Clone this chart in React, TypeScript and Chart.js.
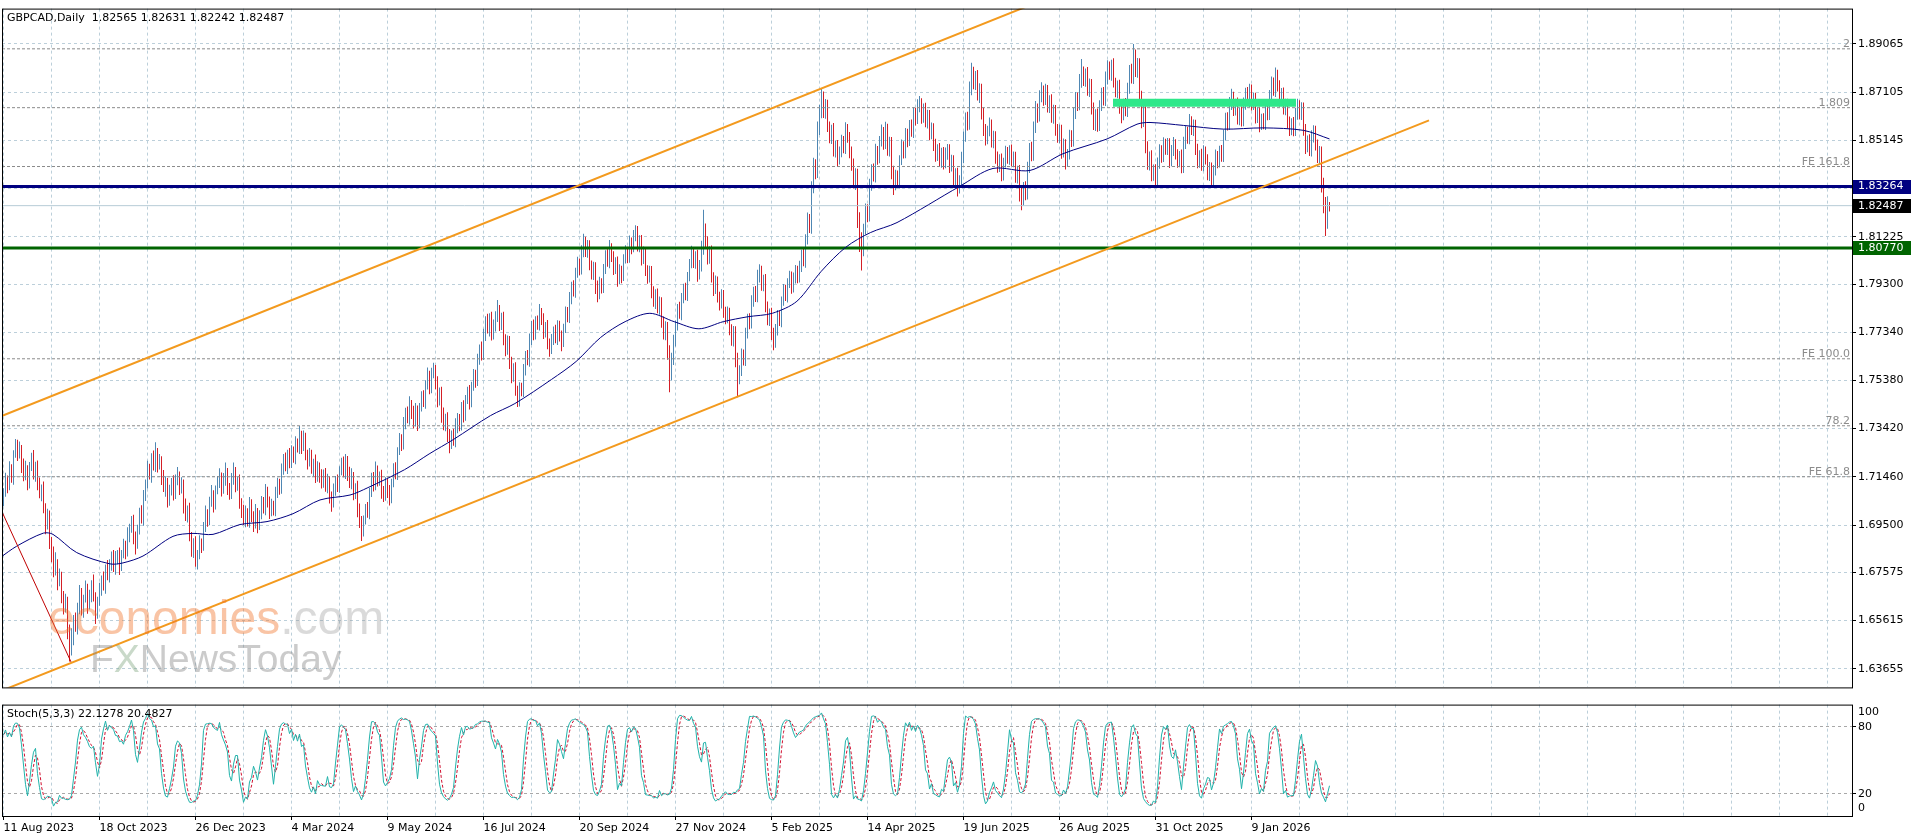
import { useEffect, useRef } from 'react';
import { Chart, registerables } from 'chart.js';

Chart.register(...registerables);

const FONT = '"DejaVu Sans", Verdana, sans-serif';
const WM_FONT = '"Liberation Sans", Arial, sans-serif';

const titleText = 'GBPCAD,Daily  1.82565 1.82631 1.82242 1.82487';
const stochTitle = 'Stoch(5,3,3) 22.1278 20.4827';

const dateLabels = ['11 Aug 2023', '18 Oct 2023', '26 Dec 2023', '4 Mar 2024', '9 May 2024', '16 Jul 2024', '20 Sep 2024', '27 Nov 2024', '5 Feb 2025', '14 Apr 2025', '19 Jun 2025', '26 Aug 2025', '31 Oct 2025', '9 Jan 2026'];
const barsPerLabel = 48;
const barsPerGrid = 24;

const priceTicks = [1.89065, 1.87105, 1.85145, 1.83185, 1.81225, 1.793, 1.7734, 1.7538, 1.7342, 1.7146, 1.695, 1.67575, 1.65615, 1.63655];
const priceTickLabels = ['1.89065', '1.87105', '1.85145', '', '1.81225', '1.79300', '1.77340', '1.75380', '1.73420', '1.71460', '1.69500', '1.67575', '1.65615', '1.63655'];

const stochTickPos = [6.7, 20, 80, 93.3];
const stochTickLabels = ['0', '20', '80', '100'];
const stochLevels = [20, 80];
const stochK = 5, stochSlowing = 3, stochD = 3;

// daily bars: open of each bar = previous close
const firstOpen = 1.705;
const closes = [
  1.7080, 1.7135, 1.7110, 1.7175, 1.7150, 1.7240, 1.7275, 1.7235, 1.7260, 1.7195, 1.7150, 1.7175, 1.7120, 1.7185, 1.7215, 1.7160, 1.7190, 1.7110, 1.7075, 1.7100, 1.7020, 1.6950, 1.6985, 1.6880,
  1.6830, 1.6760, 1.6795, 1.6720, 1.6745, 1.6660, 1.6610, 1.6640, 1.6520, 1.6440, 1.6490, 1.6565, 1.6530, 1.6620, 1.6670, 1.6600, 1.6650, 1.6690, 1.6625, 1.6660, 1.6710, 1.6655, 1.6590, 1.6640,
  1.6690, 1.6730, 1.6705, 1.6770, 1.6740, 1.6795, 1.6820, 1.6775, 1.6810, 1.6835, 1.6785, 1.6830, 1.6865, 1.6840, 1.6905, 1.6940, 1.6960, 1.6905, 1.6870, 1.6935, 1.6995, 1.6975, 1.7070, 1.7120,
  1.7180, 1.7150, 1.7215, 1.7190, 1.7245, 1.7195, 1.7215, 1.7140, 1.7100, 1.7125, 1.7050, 1.7085, 1.7120, 1.7075, 1.7130, 1.7150, 1.7100, 1.7120, 1.7030, 1.6985, 1.7010, 1.6900, 1.6850, 1.6880,
  1.6800, 1.6830, 1.6880, 1.6860, 1.6940, 1.6995, 1.6970, 1.7040, 1.7075, 1.7035, 1.7090, 1.7120, 1.7145, 1.7095, 1.7135, 1.7160, 1.7105, 1.7075, 1.7130, 1.7165, 1.7110, 1.7130, 1.7040, 1.7010,
  1.6975, 1.7000, 1.6960, 1.7030, 1.6990, 1.6955, 1.7000, 1.6945, 1.6995, 1.7040, 1.7015, 1.7085, 1.7050, 1.7010, 1.7030, 1.7005, 1.7075, 1.7120, 1.7095, 1.7175, 1.7210, 1.7185, 1.7235, 1.7200,
  1.7250, 1.7225, 1.7280, 1.7260, 1.7315, 1.7270, 1.7300, 1.7240, 1.7210, 1.7235, 1.7175, 1.7205, 1.7145, 1.7185, 1.7150, 1.7120, 1.7160, 1.7110, 1.7130, 1.7065, 1.7040, 1.7085, 1.7130, 1.7105,
  1.7170, 1.7195, 1.7165, 1.7215, 1.7160, 1.7120, 1.7145, 1.7085, 1.7105, 1.7020, 1.6965, 1.6925, 1.6970, 1.7020, 1.6995, 1.7080, 1.7135, 1.7110, 1.7170, 1.7135, 1.7150, 1.7090, 1.7065, 1.7115,
  1.7085, 1.7060, 1.7120, 1.7180, 1.7155, 1.7250, 1.7300, 1.7275, 1.7360, 1.7405, 1.7380, 1.7440, 1.7410, 1.7370, 1.7415, 1.7365, 1.7430, 1.7470, 1.7445, 1.7520, 1.7555, 1.7510, 1.7565, 1.7580,
  1.7530, 1.7460, 1.7490, 1.7400, 1.7360, 1.7385, 1.7310, 1.7280, 1.7315, 1.7290, 1.7350, 1.7385, 1.7350, 1.7425, 1.7395, 1.7460, 1.7490, 1.7445, 1.7515, 1.7560, 1.7530, 1.7620, 1.7665, 1.7640,
  1.7720, 1.7775, 1.7745, 1.7790, 1.7725, 1.7755, 1.7800, 1.7820, 1.7770, 1.7795, 1.7710, 1.7670, 1.7700, 1.7610, 1.7560, 1.7590, 1.7500, 1.7450, 1.7510, 1.7490, 1.7580, 1.7640, 1.7615, 1.7700,
  1.7755, 1.7725, 1.7780, 1.7760, 1.7815, 1.7790, 1.7735, 1.7760, 1.7690, 1.7665, 1.7700, 1.7735, 1.7710, 1.7765, 1.7720, 1.7690, 1.7750, 1.7815, 1.7790, 1.7870, 1.7920, 1.7895, 1.7975, 1.8010,
  1.7985, 1.8060, 1.8100, 1.8065, 1.8090, 1.8010, 1.7975, 1.8000, 1.7920, 1.7890, 1.7935, 1.7910, 1.7990, 1.8040, 1.8015, 1.8075, 1.8045, 1.7995, 1.8020, 1.7950, 1.7985, 1.7960, 1.8030, 1.8060,
  1.8035, 1.8100, 1.8075, 1.8125, 1.8145, 1.8090, 1.8110, 1.8030, 1.8055, 1.7990, 1.7960, 1.7985, 1.7900, 1.7860, 1.7885, 1.7830, 1.7860, 1.7780, 1.7735, 1.7760, 1.7660, 1.7560, 1.7620, 1.7700,
  1.7760, 1.7830, 1.7805, 1.7870, 1.7910, 1.7885, 1.7960, 1.8010, 1.8055, 1.8020, 1.8045, 1.7970, 1.8000, 1.8070, 1.8145, 1.8100, 1.8040, 1.8065, 1.7960, 1.7910, 1.7940, 1.7880, 1.7850, 1.7885,
  1.7820, 1.7790, 1.7815, 1.7750, 1.7710, 1.7740, 1.7630, 1.7550, 1.7575, 1.7640, 1.7615, 1.7730, 1.7790, 1.7765, 1.7860, 1.7900, 1.7875, 1.7960, 1.7985, 1.7930, 1.7950, 1.7840, 1.7790, 1.7815,
  1.7730, 1.7695, 1.7740, 1.7800, 1.7775, 1.7860, 1.7905, 1.7880, 1.7935, 1.7960, 1.7915, 1.7950, 1.7985, 1.7955, 1.8000, 1.8045, 1.8020, 1.8110, 1.8190, 1.8160, 1.8320, 1.8410, 1.8380, 1.8560,
  1.8625, 1.8685, 1.8630, 1.8660, 1.8570, 1.8530, 1.8560, 1.8470, 1.8495, 1.8440, 1.8465, 1.8510, 1.8480, 1.8560, 1.8530, 1.8470, 1.8425, 1.8350, 1.8380, 1.8200, 1.8110, 1.8065, 1.8150, 1.8230,
  1.8200, 1.8330, 1.8395, 1.8365, 1.8470, 1.8440, 1.8505, 1.8545, 1.8500, 1.8560, 1.8480, 1.8510, 1.8390, 1.8330, 1.8370, 1.8340, 1.8430, 1.8490, 1.8460, 1.8540, 1.8510, 1.8570, 1.8545, 1.8625,
  1.8600, 1.8650, 1.8665, 1.8610, 1.8640, 1.8590, 1.8620, 1.8540, 1.8565, 1.8500, 1.8455, 1.8480, 1.8430, 1.8465, 1.8420, 1.8460, 1.8480, 1.8410, 1.8435, 1.8360, 1.8385, 1.8320, 1.8350, 1.8440,
  1.8525, 1.8600, 1.8575, 1.8720, 1.8790, 1.8750, 1.8775, 1.8700, 1.8725, 1.8630, 1.8560, 1.8520, 1.8550, 1.8580, 1.8510, 1.8535, 1.8450, 1.8410, 1.8440, 1.8370, 1.8420, 1.8465, 1.8440, 1.8475,
  1.8430, 1.8450, 1.8370, 1.8395, 1.8300, 1.8270, 1.8320, 1.8290, 1.8400, 1.8480, 1.8450, 1.8560, 1.8640, 1.8610, 1.8690, 1.8715, 1.8680, 1.8720, 1.8655, 1.8680, 1.8610, 1.8640, 1.8560, 1.8530,
  1.8560, 1.8470, 1.8500, 1.8430, 1.8455, 1.8530, 1.8505, 1.8620, 1.8680, 1.8655, 1.8750, 1.8790, 1.8760, 1.8785, 1.8720, 1.8745, 1.8650, 1.8590, 1.8620, 1.8570, 1.8650, 1.8700, 1.8675, 1.8760,
  1.8810, 1.8785, 1.8820, 1.8750, 1.8715, 1.8740, 1.8650, 1.8615, 1.8660, 1.8630, 1.8720, 1.8790, 1.8765, 1.8860, 1.8800, 1.8830, 1.8700, 1.8600, 1.8635, 1.8490, 1.8420, 1.8450, 1.8370, 1.8395,
  1.8350, 1.8420, 1.8470, 1.8445, 1.8500, 1.8480, 1.8505, 1.8430, 1.8470, 1.8500, 1.8460, 1.8430, 1.8450, 1.8400, 1.8500, 1.8545, 1.8520, 1.8590, 1.8560, 1.8580, 1.8480, 1.8430, 1.8455, 1.8410,
  1.8470, 1.8440, 1.8380, 1.8405, 1.8350, 1.8390, 1.8450, 1.8425, 1.8470, 1.8445, 1.8530, 1.8600, 1.8575, 1.8660, 1.8690, 1.8640, 1.8665, 1.8600, 1.8625, 1.8590, 1.8660, 1.8700, 1.8675, 1.8720,
  1.8660, 1.8690, 1.8610, 1.8630, 1.8575, 1.8600, 1.8580, 1.8640, 1.8615, 1.8690, 1.8740, 1.8715, 1.8780, 1.8740, 1.8680, 1.8705, 1.8640, 1.8665, 1.8590, 1.8560, 1.8585, 1.8550, 1.8620, 1.8655,
  1.8625, 1.8650, 1.8560, 1.8490, 1.8515, 1.8470, 1.8530, 1.8555, 1.8500, 1.8450, 1.8470, 1.8340, 1.8260, 1.8175, 1.82565, 1.82487,
];
// wicks above max(open, close) and below min(open, close), in pips
const upperWicks = [
  20, 28, 16, 34, 22, 14, 25, 22, 30, 15, 26, 36, 18, 21, 29, 40, 17, 22, 33, 15, 27, 19, 31, 24,
  21, 33, 44, 16, 28, 15, 22, 31, 18, 25, 40, 19, 29, 14, 36, 24, 16, 34, 21, 27, 15, 39, 22, 18,
  25, 15, 31, 19, 38, 16, 22, 28, 34, 13, 24, 18, 29, 21, 36, 15, 27, 32, 19, 16, 25, 35, 22, 15,
  31, 19, 27, 38, 42, 18, 24, 15, 34, 22, 16, 29, 21, 32, 25, 36, 18, 24, 15, 28, 19, 31, 22, 16,
  24, 18, 28, 15, 22, 34, 19, 25, 38, 16, 21, 29, 36, 19, 27, 44, 22, 16, 32, 39, 21, 15, 25, 19,
  22, 29, 18, 34, 25, 16, 36, 19, 15, 28, 24, 32, 21, 16, 27, 19, 31, 22, 18, 25, 29, 35, 21, 28,
  24, 19, 31, 22, 38, 18, 34, 25, 16, 28, 21, 15, 32, 24, 19, 27, 16, 22, 29, 18, 21, 34, 19, 25,
  19, 29, 34, 24, 16, 27, 36, 21, 15, 25, 18, 22, 19, 16, 24, 21, 28, 31, 38, 22, 18, 25, 19, 29,
  22, 28, 18, 21, 25, 16, 24, 19, 29, 22, 27, 34, 18, 25, 31, 21, 16, 24, 28, 19, 36, 22, 25, 30,
  21, 25, 19, 22, 28, 18, 24, 31, 19, 27, 34, 21, 16, 25, 32, 19, 22, 29, 18, 24, 21, 27, 19, 31,
  28, 24, 34, 21, 27, 31, 19, 45, 25, 18, 22, 16, 21, 19, 24, 18, 22, 16, 21, 19, 25, 18, 22, 29,
  25, 31, 19, 22, 34, 18, 21, 16, 24, 19, 27, 22, 29, 18, 16, 21, 19, 24, 22, 28, 19, 25, 21, 31,
  24, 28, 35, 22, 19, 18, 16, 21, 19, 24, 25, 19, 22, 27, 31, 34, 21, 18, 19, 22, 25, 19, 21, 28,
  22, 27, 19, 25, 24, 21, 18, 19, 28, 21, 16, 19, 18, 21, 24, 27, 19, 16, 18, 19, 16, 21, 31, 24,
  22, 19, 28, 24, 21, 25, 19, 22, 31, 21, 18, 24, 28, 36, 87, 31, 24, 19, 22, 18, 25, 21, 19, 24,
  21, 18, 24, 19, 16, 19, 18, 21, 25, 28, 24, 22, 19, 21, 24, 19, 22, 28, 25, 19, 18, 21, 19, 16,
  19, 22, 28, 24, 21, 19, 25, 22, 19, 24, 21, 27, 22, 19, 25, 24, 28, 22, 31, 25, 28, 34, 27, 31,
  34, 40, 28, 22, 19, 21, 18, 25, 19, 21, 24, 27, 22, 28, 21, 18, 19, 16, 21, 19, 22, 31, 25, 28,
  24, 28, 22, 25, 31, 21, 27, 34, 24, 30, 22, 19, 18, 21, 25, 22, 24, 28, 21, 25, 22, 27, 29, 24,
  22, 31, 30, 21, 24, 27, 19, 18, 22, 19, 21, 18, 24, 19, 22, 25, 19, 18, 21, 19, 16, 18, 22, 28,
  25, 28, 31, 34, 40, 24, 21, 25, 22, 19, 18, 21, 24, 27, 19, 18, 16, 19, 18, 21, 24, 27, 22, 19,
  22, 19, 18, 16, 19, 21, 25, 28, 27, 24, 29, 31, 34, 24, 28, 36, 22, 25, 19, 18, 22, 19, 18, 21,
  19, 18, 22, 19, 24, 27, 25, 28, 31, 29, 34, 55, 25, 22, 28, 21, 19, 18, 21, 24, 27, 28, 31, 34,
  30, 25, 22, 28, 19, 18, 21, 19, 24, 27, 29, 31, 36, 46, 24, 19, 18, 16, 19, 18, 21, 19, 24, 21,
  22, 25, 28, 24, 27, 21, 19, 18, 25, 28, 19, 18, 21, 27, 29, 28, 25, 31, 22, 19, 18, 21, 19, 25,
  24, 19, 18, 21, 19, 24, 27, 21, 22, 25, 28, 27, 29, 31, 34, 22, 19, 24, 21, 27, 29, 28, 31, 24,
  21, 19, 18, 19, 21, 22, 25, 21, 27, 29, 34, 30, 31, 21, 19, 22, 24, 19, 18, 21, 19, 24, 27, 29,
  22, 19, 18, 21, 19, 24, 25, 21, 19, 18, 21, 19, 22, 24, 30, 7,
];
const lowerWicks = [
  24, 15, 31, 19, 28, 36, 16, 25, 14, 33, 22, 18, 29, 21, 15, 25, 34, 19, 16, 28, 22, 38, 18, 27,
  31, 22, 15, 35, 19, 28, 24, 16, 34, 45, 21, 29, 14, 25, 33, 18, 27, 15, 36, 19, 24, 16, 42, 21,
  18, 28, 21, 34, 15, 24, 31, 16, 27, 19, 38, 22, 15, 29, 18, 25, 21, 33, 40, 16, 24, 19, 28, 22,
  21, 15, 28, 18, 24, 31, 19, 27, 16, 35, 29, 22, 15, 25, 19, 18, 28, 22, 33, 19, 25, 16, 29, 34,
  20, 31, 19, 24, 15, 18, 27, 21, 16, 34, 22, 15, 19, 29, 18, 25, 33, 22, 19, 16, 27, 21, 24, 31,
  25, 34, 16, 21, 28, 33, 19, 28, 15, 22, 18, 25, 29, 35, 24, 16, 19, 15, 22, 18, 21, 16, 27, 19,
  18, 22, 28, 15, 21, 31, 19, 27, 34, 22, 16, 29, 24, 19, 28, 21, 18, 25, 31, 27, 36, 19, 16, 21,
  24, 18, 21, 28, 31, 19, 25, 34, 29, 38, 27, 40, 22, 18, 15, 21, 16, 24, 19, 28, 25, 33, 21, 16,
  25, 31, 21, 16, 19, 22, 15, 24, 18, 21, 16, 22, 29, 27, 19, 33, 21, 18, 15, 22, 19, 28, 24, 18,
  28, 31, 24, 34, 25, 29, 22, 38, 21, 18, 24, 27, 19, 16, 28, 21, 18, 25, 16, 19, 22, 15, 18, 21,
  19, 22, 16, 28, 25, 21, 18, 24, 31, 27, 29, 34, 28, 25, 33, 27, 24, 20, 18, 16, 19, 22, 15, 21,
  18, 24, 21, 16, 19, 27, 29, 22, 25, 31, 19, 18, 21, 28, 24, 33, 16, 19, 15, 18, 22, 16, 21, 19,
  19, 16, 21, 25, 28, 24, 27, 29, 31, 34, 22, 18, 16, 19, 15, 21, 25, 28, 24, 31, 21, 27, 18, 16,
  19, 18, 24, 16, 21, 28, 31, 25, 19, 27, 29, 24, 28, 22, 31, 19, 25, 28, 31, 34, 38, 70, 22, 19,
  24, 19, 16, 22, 18, 21, 24, 19, 16, 25, 28, 31, 22, 19, 21, 28, 31, 27, 24, 29, 21, 25, 28, 19,
  27, 24, 19, 28, 31, 34, 38, 80, 28, 19, 16, 18, 21, 19, 16, 22, 18, 19, 24, 27, 29, 25, 28, 31,
  28, 34, 24, 19, 16, 21, 18, 19, 25, 21, 24, 19, 18, 22, 19, 21, 18, 24, 19, 22, 25, 21, 24, 19,
  24, 21, 25, 28, 22, 27, 31, 21, 25, 34, 24, 19, 18, 21, 25, 28, 34, 31, 38, 42, 50, 80, 22, 19,
  19, 16, 21, 18, 22, 25, 19, 16, 24, 21, 28, 31, 34, 38, 19, 18, 21, 16, 19, 18, 24, 19, 16, 21,
  25, 19, 21, 28, 24, 22, 27, 25, 21, 29, 28, 25, 22, 27, 24, 19, 25, 28, 22, 27, 31, 34, 22, 19,
  19, 16, 21, 18, 22, 28, 31, 24, 34, 31, 28, 27, 22, 19, 25, 28, 31, 27, 24, 22, 19, 16, 21, 25,
  21, 25, 28, 31, 34, 40, 22, 19, 16, 18, 21, 19, 16, 24, 19, 21, 25, 22, 27, 29, 24, 28, 27, 25,
  27, 31, 25, 34, 22, 19, 18, 16, 19, 21, 18, 22, 25, 28, 24, 29, 31, 34, 38, 21, 18, 16, 19, 21,
  19, 24, 28, 21, 25, 29, 27, 31, 19, 18, 21, 16, 19, 22, 28, 31, 34, 36, 31, 28, 25, 28, 22, 20,
  25, 18, 21, 22, 19, 24, 25, 28, 21, 19, 24, 27, 25, 19, 18, 21, 19, 22, 24, 28, 25, 29, 27, 19,
  21, 24, 28, 31, 22, 18, 19, 24, 21, 18, 19, 16, 21, 19, 22, 27, 25, 21, 24, 19, 18, 21, 19, 25,
  24, 22, 27, 25, 28, 19, 21, 24, 19, 18, 21, 19, 24, 27, 28, 25, 21, 24, 27, 28, 25, 19, 18, 22,
  25, 28, 27, 31, 24, 19, 21, 24, 27, 28, 34, 38, 42, 50, 20, 24,
];

// moving average (bar index, price)
const maIdx = [-1.75, 6.6, 19.9, 24.75, 36.6, 53.25, 59.75, 69.75, 84.75, 94.75, 104.75, 118.25, 131.75, 144.75, 158.25, 173.25, 182.2, 200.5, 212.8, 225, 243.5, 255.7, 274, 286.3, 298.6, 310.8, 323.2, 335.3, 347.7, 359.9, 372.2, 384.4, 396.7, 408.9, 421.2, 433.4, 446.75, 478.25, 494.75, 513.25, 529.75, 551.75, 566.75, 573.25, 590, 610, 630, 650, 663];
const maVals = [1.6817, 1.6864, 1.6917, 1.6912, 1.6838, 1.6792, 1.6796, 1.6824, 1.6904, 1.6916, 1.6912, 1.6952, 1.6964, 1.6996, 1.7052, 1.7072, 1.7102, 1.7175, 1.7239, 1.7298, 1.7395, 1.7444, 1.7542, 1.7615, 1.7713, 1.7777, 1.7811, 1.7777, 1.7748, 1.7777, 1.7797, 1.7811, 1.7860, 1.7982, 1.8080, 1.8139, 1.8180, 1.8328, 1.8400, 1.8392, 1.8460, 1.8520, 1.8580, 1.8587, 1.8575, 1.8560, 1.8565, 1.8555, 1.8520];

const fibLevels = [1.88865, 1.86472, 1.84079, 1.7626, 1.73536, 1.71462];
const fibNames = ['2', '1.809', 'FE 161.8', 'FE 100.0', '78.2', 'FE 61.8'];

const resistanceLevel = 1.83264;
const supportLevel = 1.8077;
const lastPrice = 1.82487;

const channelX = [-1.75, 712.75];
const channelLowerY = [1.62737, 1.85954];
const channelUpperY = [1.73907, 1.97124];
const fibTrendX = [-0.75, 33.75];
const fibTrendY = [1.70038, 1.63934];
const zoneX = [554.75, 646.25];
const zoneY = 1.86672;

// scale ranges
const X_MIN = -0.75, X_MAX = 924.25;
const Y_MIN = 1.62897, Y_MAX = 1.90501;

const GRID = '#bccfda';
const UP = '#4f87b3';
const DOWN = '#d41f27';

function buildBars() {
  const opens = closes.map((c, i) => (i === 0 ? firstOpen : closes[i - 1]));
  const highs = closes.map((c, i) => Math.max(opens[i], c) + (upperWicks[i] ?? 0) / 10000);
  const lows = closes.map((c, i) => Math.min(opens[i], c) - (lowerWicks[i] ?? 0) / 10000);
  return { opens, highs, lows };
}

function computeStoch(highs: number[], lows: number[], cl: number[]) {
  const n = cl.length;
  const hh: number[] = [], ll: number[] = [];
  for (let i = 0; i < n; i++) {
    let h = -Infinity, l = Infinity;
    for (let j = Math.max(0, i - stochK + 1); j <= i; j++) { h = Math.max(h, highs[j]); l = Math.min(l, lows[j]); }
    hh.push(h); ll.push(l);
  }
  const k: number[] = [];
  for (let i = 0; i < n; i++) {
    let num = 0, den = 0;
    for (let j = Math.max(0, i - stochSlowing + 1); j <= i; j++) { num += cl[j] - ll[j]; den += hh[j] - ll[j]; }
    k.push(den > 0 ? (100 * num) / den : 50);
  }
  const d = k.map((_, i) => {
    let s = 0, c = 0;
    for (let j = Math.max(0, i - stochD + 1); j <= i; j++) { s += k[j]; c++; }
    return s / c;
  });
  return { k, d };
}

function gridTickValues() {
  const arr: { value: number }[] = [];
  for (let v = 0; v <= X_MAX; v += barsPerGrid) arr.push({ value: v });
  return arr;
}

function hLine(level: number, color: string, width: number, dash: number[] = []) {
  return {
    type: 'line', data: [{ x: X_MIN, y: level }, { x: X_MAX, y: level }],
    borderColor: color, borderWidth: width, borderDash: dash, pointRadius: 0, fill: false, clip: 0, order: 1,
  };
}

export default function App() {
  const mainRef = useRef<HTMLCanvasElement>(null);
  const stochRef = useRef<HTMLCanvasElement>(null);

  useEffect(() => {
    const { opens, highs, lows } = buildBars();
    const st = computeStoch(highs, lows, closes);

    const mainDecor = {
      id: 'mainDecor',
      afterDatasetsDraw(chart: any) {
        const { ctx, chartArea: a, scales } = chart;
        const y = scales.y;
        ctx.save();
        // watermark
        ctx.textAlign = 'left';
        ctx.textBaseline = 'alphabetic';
        ctx.font = `48px ${WM_FONT}`;
        ctx.fillStyle = 'rgba(240,115,40,0.42)';
        ctx.fillText('economies', 48, 634);
        const w1 = ctx.measureText('economies').width;
        ctx.fillStyle = 'rgba(140,140,140,0.32)';
        ctx.fillText('.com', 48 + w1, 634);
        ctx.font = `39px ${WM_FONT}`;
        ctx.fillStyle = 'rgba(140,140,140,0.45)';
        ctx.fillText('F', 90, 672);
        const wf = ctx.measureText('F').width;
        ctx.fillStyle = 'rgba(120,160,120,0.4)';
        ctx.fillText('X', 90 + wf, 672);
        const wx = ctx.measureText('X').width;
        ctx.fillStyle = 'rgba(140,140,140,0.45)';
        ctx.fillText('NewsToday', 90 + wf + wx, 672);
        // fibo labels
        ctx.font = `11px ${FONT}`;
        ctx.fillStyle = '#8c8c8c';
        ctx.textAlign = 'right';
        fibLevels.forEach((lv, i) => ctx.fillText(fibNames[i], a.right - 2, y.getPixelForValue(lv) - 2));
        // title
        ctx.fillStyle = '#000';
        ctx.textAlign = 'left';
        ctx.textBaseline = 'middle';
        ctx.fillText(titleText, a.left + 5, a.top + 10);
        ctx.restore();
      },
      afterDraw(chart: any) {
        const { ctx, chartArea: a, scales } = chart;
        const y = scales.y;
        ctx.save();
        ctx.strokeStyle = '#000';
        ctx.lineWidth = 1;
        ctx.strokeRect(a.left + 0.5, a.top + 0.5, a.right - a.left, a.bottom - a.top);
        const boxes: [number, string][] = [[resistanceLevel, '#000080'], [lastPrice, '#000000'], [supportLevel, '#006400']];
        ctx.font = `11px ${FONT}`;
        ctx.textAlign = 'left';
        ctx.textBaseline = 'middle';
        boxes.forEach(([v, col]) => {
          const py = y.getPixelForValue(v);
          ctx.fillStyle = col;
          ctx.fillRect(a.right + 1, Math.round(py) - 7, 58, 14);
          ctx.fillStyle = '#fff';
          ctx.fillText(v.toFixed(5), a.right + 6, py);
        });
        ctx.restore();
      },
    };

    const main = new Chart(mainRef.current as HTMLCanvasElement, {
      type: 'bar',
      data: {
        datasets: [
          { type: 'line', data: [{ x: zoneX[0], y: zoneY }, { x: zoneX[1], y: zoneY }], borderColor: '#2ee88a', borderWidth: 8, borderCapStyle: 'butt', pointRadius: 0, clip: 0, order: 0 },
          { type: 'line', data: channelX.map((x, i) => ({ x, y: channelUpperY[i] })), borderColor: '#f39a1e', borderWidth: 2, pointRadius: 0, clip: 0, order: 0 },
          { type: 'line', data: channelX.map((x, i) => ({ x, y: channelLowerY[i] })), borderColor: '#f39a1e', borderWidth: 2, pointRadius: 0, clip: 0, order: 0 },
          { type: 'line', data: fibTrendX.map((x, i) => ({ x, y: fibTrendY[i] })), borderColor: '#c00000', borderWidth: 1, pointRadius: 0, clip: 0, order: 0 },
          { type: 'line', data: maIdx.map((x, i) => ({ x, y: maVals[i] })), borderColor: '#000080', borderWidth: 1, pointRadius: 0, tension: 0.3, clip: 0, order: 0 },
          hLine(resistanceLevel, '#000080', 3),
          hLine(supportLevel, '#006400', 3),
          hLine(lastPrice, '#b6cbd6', 1),
          ...fibLevels.map((lv) => hLine(lv, '#8a8a8a', 1, [3, 2])),
          {
            type: 'bar',
            data: closes.map((c, i) => ({ x: i, y: [lows[i], highs[i]] })),
            backgroundColor: closes.map((c, i) => (c >= opens[i] ? UP : DOWN)),
            borderWidth: 0,
            barThickness: 1,
            inflateAmount: 0,
            order: 5,
          },
        ] as any,
      },
      options: {
        animation: false,
        responsive: false,
        maintainAspectRatio: false,
        events: [],
        layout: { padding: { left: 2, top: 2, bottom: 2, right: 0 } },
        plugins: { legend: { display: false }, tooltip: { enabled: false } },
        scales: {
          x: {
            type: 'linear', min: X_MIN, max: X_MAX, offset: false,
            afterBuildTicks: (s: any) => { s.ticks = gridTickValues(); },
            afterFit: (s: any) => { s.height = 0; },
            ticks: { display: false },
            grid: { color: GRID, lineWidth: 1, drawTicks: false, offset: false },
            border: { display: false, dash: [3, 3] },
          },
          y: {
            type: 'linear', position: 'right', min: Y_MIN, max: Y_MAX,
            afterBuildTicks: (s: any) => { s.ticks = priceTicks.map((v) => ({ value: v })); },
            afterFit: (s: any) => { s.width = 64; },
            ticks: {
              autoSkip: false, color: '#000', padding: 2, crossAlign: 'near',
              font: { family: FONT, size: 11 },
              callback: (v: any) => {
                const i = priceTicks.findIndex((p) => Math.abs(p - v) < 1e-7);
                return i >= 0 ? priceTickLabels[i] : '';
              },
            },
            grid: { color: GRID, lineWidth: 1, drawTicks: true, tickLength: 4, tickColor: '#000', tickBorderDash: [] },
            border: { display: false, dash: [3, 3] },
          },
        },
      } as any,
      plugins: [mainDecor],
    });

    const stochDecor = {
      id: 'stochDecor',
      afterDraw(chart: any) {
        const { ctx, chartArea: a } = chart;
        ctx.save();
        ctx.strokeStyle = '#000';
        ctx.lineWidth = 1;
        ctx.strokeRect(a.left + 0.5, a.top + 0.5, a.right - a.left, a.bottom - a.top);
        ctx.font = `11px ${FONT}`;
        ctx.fillStyle = '#000';
        ctx.textAlign = 'left';
        ctx.textBaseline = 'middle';
        ctx.fillText(stochTitle, a.left + 5, a.top + 10);
        ctx.restore();
      },
    };

    const isLabelTick = (v: number) => v % barsPerLabel === 0 && v / barsPerLabel < dateLabels.length;

    const stoch = new Chart(stochRef.current as HTMLCanvasElement, {
      type: 'line',
      data: {
        datasets: [
          { data: st.k.map((v, i) => ({ x: i, y: v })), borderColor: '#20b2aa', borderWidth: 1, pointRadius: 0, tension: 0, clip: 0 },
          { data: st.d.map((v, i) => ({ x: i, y: v })), borderColor: '#d01030', borderWidth: 1, borderDash: [3, 2], pointRadius: 0, tension: 0, clip: 0 },
        ],
      },
      options: {
        animation: false,
        responsive: false,
        maintainAspectRatio: false,
        events: [],
        layout: { padding: { left: 2, top: 1, bottom: 0, right: 0 } },
        plugins: { legend: { display: false }, tooltip: { enabled: false } },
        scales: {
          x: {
            type: 'linear', min: X_MIN, max: X_MAX, offset: false,
            afterBuildTicks: (s: any) => { s.ticks = gridTickValues(); },
            afterFit: (s: any) => { s.height = 24; },
            ticks: {
              autoSkip: false, maxRotation: 0, minRotation: 0, align: 'start', padding: 2, color: '#000',
              font: { family: FONT, size: 11 },
              callback: (v: any) => (isLabelTick(v) ? dateLabels[v / barsPerLabel] : ''),
            },
            grid: {
              color: GRID, lineWidth: 1, drawTicks: true, tickLength: 4, offset: false, tickBorderDash: [],
              tickColor: (ctx: any) => (ctx.tick && isLabelTick(ctx.tick.value) ? '#000' : 'rgba(0,0,0,0)'),
            },
            border: { display: false, dash: [3, 3] },
          },
          y: {
            type: 'linear', position: 'right', min: 0, max: 100,
            afterBuildTicks: (s: any) => { s.ticks = stochTickPos.map((v) => ({ value: v })); },
            afterFit: (s: any) => { s.width = 64; },
            ticks: {
              autoSkip: false, color: '#000', padding: 2, crossAlign: 'near',
              font: { family: FONT, size: 11 },
              callback: (v: any) => {
                const i = stochTickPos.findIndex((p) => Math.abs(p - v) < 1e-7);
                return i >= 0 ? stochTickLabels[i] : '';
              },
            },
            grid: {
              lineWidth: 1, drawTicks: true, tickLength: 4, tickBorderDash: [],
              color: (ctx: any) => (ctx.tick && stochLevels.includes(ctx.tick.value) ? '#a8a8a8' : 'rgba(0,0,0,0)'),
              tickColor: (ctx: any) => (ctx.tick && stochLevels.includes(ctx.tick.value) ? '#000' : 'rgba(0,0,0,0)'),
            },
            border: { display: false, dash: [3, 3] },
          },
        },
      } as any,
      plugins: [stochDecor],
    });

    return () => {
      main.destroy();
      stoch.destroy();
    };
  }, []);

  return (
    <div style={{ position: 'fixed', left: 0, top: 0, width: 1916, height: 840, background: '#fff' }}>
      <canvas ref={mainRef} width={1916} height={696} style={{ position: 'absolute', left: 0, top: 0, width: 1916, height: 696 }} />
      <canvas ref={stochRef} width={1916} height={144} style={{ position: 'absolute', left: 0, top: 696, width: 1916, height: 144 }} />
    </div>
  );
}
